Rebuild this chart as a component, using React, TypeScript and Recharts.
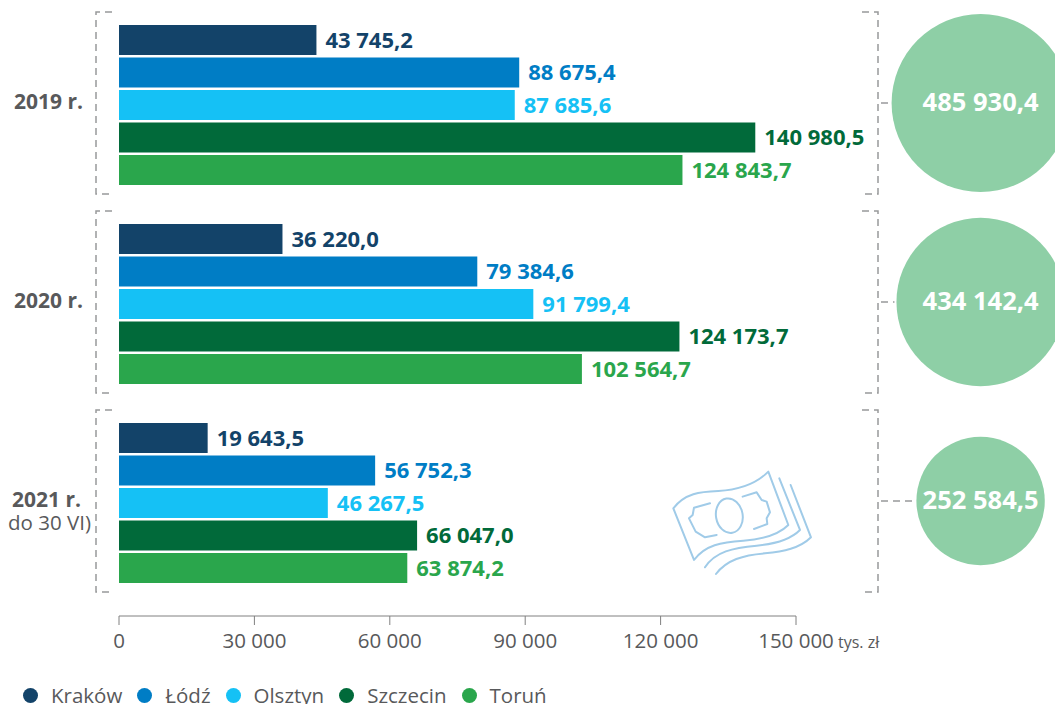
import React from 'react';
import {
  BarChart,
  Bar,
  XAxis,
  YAxis,
  Legend,
  LabelList,
  ReferenceDot,
} from 'recharts';

const FONT = '"Open Sans", sans-serif';
const GRAY = '#58595b';

const years = ['2019 r.', '2020 r.', '2021 r.'];
const yearNotes = ['', '', 'do 30 VI)'];
const krakow = [43745.2, 36220.0, 19643.5];
const lodz = [88675.4, 79384.6, 56752.3];
const olsztyn = [87685.6, 91799.4, 46267.5];
const szczecin = [140980.5, 124173.7, 66047.0];
const torun = [124843.7, 102564.7, 63874.2];
const totals = [485930.4, 434142.4, 252584.5];
const xTicks = [0, 30000, 60000, 90000, 120000, 150000];

const series = [
  { key: 'Kraków', values: krakow, color: '#134369' },
  { key: 'Łódź', values: lodz, color: '#007dc5' },
  { key: 'Olsztyn', values: olsztyn, color: '#15c1f5' },
  { key: 'Szczecin', values: szczecin, color: '#016a3a' },
  { key: 'Toruń', values: torun, color: '#2aa64c' },
];

const data = years.map((year, i) => {
  const row: Record<string, string | number> = { year };
  series.forEach((s) => {
    row[s.key] = s.values[i];
  });
  return row;
});

// 43745.2 -> "43 745,2"
const formatValue = (value: number, decimals = 1) => {
  const [whole, frac] = value.toFixed(decimals).split('.');
  const spaced = whole.replace(/\B(?=(\d{3})+$)/g, ' ');
  return frac ? `${spaced},${frac}` : spaced;
};

// kółka po prawej stronie wykresu, poza domeną osi X
const CIRCLE_AXIS_VALUE = 190900;
const circleRadius = (total: number) => 0.1277 * Math.sqrt(total);

const YearTick = ({ y, payload, index }: any) => {
  const note = yearNotes[index];
  return (
    <g fontFamily={FONT} fill={GRAY}>
      <text x={note ? 81 : 83} y={y + 4} textAnchor="end" fontSize={21} fontWeight={700}>
        {payload.value}
      </text>
      {note && (
        <text x={91} y={y + 27} textAnchor="end" fontSize={20.5}>
          {note}
        </text>
      )}
    </g>
  );
};

const ValueTick = ({ x, y, payload }: any) => (
  <g fontFamily={FONT} fill={GRAY}>
    <text x={x} y={y + 21} textAnchor="middle" fontSize={20.5}>
      {formatValue(payload.value, 0)}
    </text>
    {payload.value === 150000 && (
      <text x={x + 42} y={y + 21} fontSize={16}>
        tys. zł
      </text>
    )}
  </g>
);

// klamra, łącznik i kółko z sumą dla danego roku
const TotalShape = ({ cx, cy: bandCenter, total }: any) => {
  const r = circleRadius(total);
  const cy = bandCenter - 1.5;
  return (
    <g>
      <g fill="none" stroke="#98999b" strokeWidth={1.5} strokeDasharray="7 5">
        <path d={`M112 ${cy - 91} H96 V${cy + 91} H112`} />
        <path d={`M862 ${cy - 91} H878 V${cy + 91} H862`} />
        <path d={`M881 ${cy} H${cx - r - 2}`} />
      </g>
      <circle cx={cx} cy={cy} r={r} fill="#8ecfa6" />
      <text
        x={cx}
        y={cy + 8}
        textAnchor="middle"
        fontFamily={FONT}
        fontSize={25.5}
        fontWeight={700}
        fill="#fff"
      >
        {formatValue(total)}
      </text>
    </g>
  );
};

const MoneyIcon = () => (
  <g
    transform="translate(650 450) scale(0.3333)"
    fill="none"
    stroke="#a0cbe8"
    strokeWidth={6}
    strokeLinecap="round"
    strokeLinejoin="round"
  >
    <path d="M70 175 C105 130 150 125 205 123 C265 120 315 105 355 65 L415 225 C385 255 335 268 280 272 C215 276 165 285 132 330 Z" />
    <path d="M388 85 L450 240 C420 270 375 282 320 287 C250 293 195 305 165 352" />
    <path d="M422 105 L483 262 C450 295 400 305 345 310 C280 315 230 330 198 372" />
    <ellipse cx={238} cy={197} rx={40} ry={52} transform="rotate(-10 238 197)" />
    <path d="M180 160 L132 173 L128 195 L117 205 L137 245 L165 262 L200 255" />
    <path d="M278 140 L320 127 L335 150 L350 155 L360 187 L350 205 L352 222 L312 237" />
  </g>
);

const LegendContent = ({ payload }: any) => (
  <div style={{ display: 'flex', paddingLeft: 23, fontFamily: FONT, fontSize: 20.5, color: GRAY }}>
    {(payload || []).map((entry: any) => (
      <span key={entry.value} style={{ display: 'flex', alignItems: 'center', marginRight: 15 }}>
        <span
          style={{
            width: 15,
            height: 15,
            borderRadius: '50%',
            background: entry.color,
            marginRight: 13,
          }}
        />
        {entry.value}
      </span>
    ))}
  </div>
);

export default function App() {
  return (
    <div style={{ position: 'absolute', left: 0, top: 0, width: 1055, height: 704, overflow: 'hidden' }}>
      <BarChart
        width={1055}
        height={704}
        data={data}
        layout="vertical"
        barSize={30}
        barGap={2.5}
        margin={{ top: 5, right: 259, bottom: 28, left: 0 }}
      >
        <XAxis
          type="number"
          domain={[0, 150000]}
          ticks={xTicks}
          tick={<ValueTick />}
          tickSize={9}
          stroke="#808080"
          height={30}
          interval={0}
        />
        <YAxis
          type="category"
          dataKey="year"
          width={119}
          axisLine={false}
          tickLine={false}
          tick={<YearTick />}
          padding={{ top: 0, bottom: 14 }}
        />
        {years.map((year, i) => (
          <ReferenceDot
            key={year}
            x={CIRCLE_AXIS_VALUE}
            y={year}
            r={circleRadius(totals[i])}
            ifOverflow="visible"
            shape={(props: any) => <TotalShape {...props} total={totals[i]} />}
          />
        ))}
        {series.map((s) => (
          <Bar key={s.key} dataKey={s.key} fill={s.color} isAnimationActive={false}>
            <LabelList
              dataKey={s.key}
              position="right"
              offset={9}
              formatter={(v: any) => formatValue(v)}
              style={{ fill: s.color, fontFamily: FONT, fontSize: 22, fontWeight: 700 }}
            />
          </Bar>
        ))}
        <Legend
          verticalAlign="bottom"
          align="left"
          height={30}
          itemSorter={null}
          wrapperStyle={{ top: 681 }}
          content={<LegendContent />}
        />
        <MoneyIcon />
      </BarChart>
    </div>
  );
}
